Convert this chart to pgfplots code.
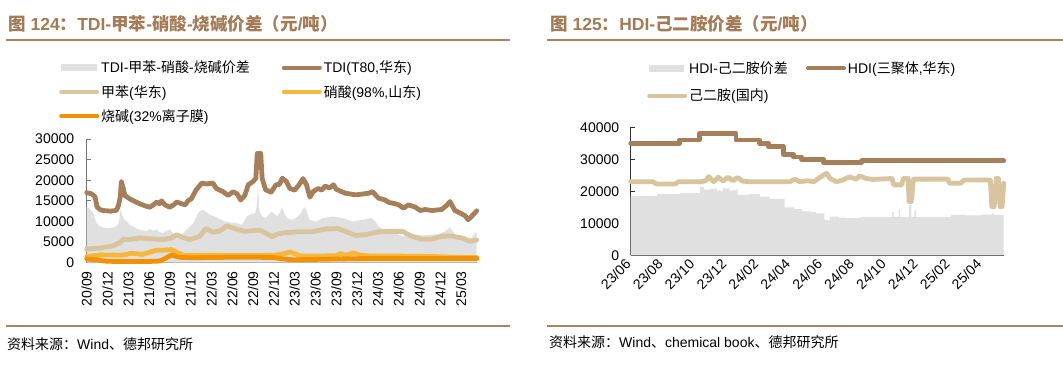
\documentclass[border=0pt]{standalone}
\usepackage{pgfplots}
\pgfplotsset{compat=1.18}
\usepackage{fontspec}
\setmainfont{Liberation Sans}
\newfontfamily\cjk{Noto Sans CJK SC}
\definecolor{titlebrown}{HTML}{A37B55}
\definecolor{rulebrown}{HTML}{A88463}
\definecolor{tdic}{HTML}{A57F5A}
\definecolor{tolc}{HTML}{D8C49D}
\definecolor{nitc}{HTML}{F5B83D}
\definecolor{naohc}{HTML}{F39200}
\definecolor{spreadc}{HTML}{E0E0E0}
\newcommand{\C}[1]{{\cjk #1}}
\pgfplotsset{
  common/.style={
    scale only axis, enlargelimits=false, clip=false,
    axis lines=left, axis line style={-},
    tick align=inside, major tick length=4pt,
    ticklabel style={font=\fontsize{14}{14}\selectfont},
    /pgf/number format/assume math mode=true,
    /pgf/number format/1000 sep={},
    scaled y ticks=false,
    legend columns=2, legend cell align=left,
    legend image code/.code={\draw[##1, line width=4pt, line cap=round] (0pt,0pt) -- (36pt,0pt);},
  },
  thick line/.style={line width=4.8pt, line cap=round, line join=round},
}
\begin{document}
\begin{tikzpicture}
\path[use as bounding box, fill=white] (0pt,0pt) rectangle (1063pt,366pt);
% ---------------- left panel ----------------
\begin{axis}[common,
  at={(86.7pt,103.3pt)}, anchor=south west,
  width=390pt, height=123.7pt,
  xmin=0, xmax=56.25, ymin=0, ymax=30000,
  axis line style={draw=black!55, line width=0.8pt},
  tick style={draw=black!55, line width=0.8pt},
  xtick={0,3,...,54},
  xticklabels={20/09,20/12,21/03,21/06,21/09,21/12,22/03,22/06,22/09,22/12,23/03,23/06,23/09,23/12,24/03,24/06,24/09,24/12,25/03},
  xticklabel style={rotate=90, anchor=east},
  xticklabel shift=5pt,
  ytick={0,5000,...,30000},
  yticklabel shift=9pt,
  legend style={at={(axis description cs:-0.0786,1.665)}, anchor=north west, draw=none, fill=none,
    font=\fontsize{14}{16}\selectfont, row sep=7pt,
    /tikz/every even column/.append style={column sep=30pt}},
]
\addplot[fill=spreadc, draw=none,
  legend image code/.code={\fill[spreadc] (0pt,-3.5pt) rectangle (36pt,3.5pt);}] coordinates {
(0,13500)(0.3,13200)(0.6,12800)(0.96,11900)(1.2,10500)(1.44,9600)(1.7,9000)(1.92,8800)(2.4,8500)(2.9,8400)(3.36,8400)(3.9,8600)(4.3,8800)(4.6,9500)(4.9,13000)(5.1,11500)(5.4,10500)(5.76,10000)(6.2,9200)(6.72,8800)(7.2,8300)(7.68,8000)(8.2,7800)(8.64,7600)(9.1,8200)(9.5,7700)(10.08,8000)(10.5,7400)(11.04,7200)(11.5,7800)(12,8000)(12.5,7000)(13,6600)(13.44,6400)(13.9,7200)(14.4,8000)(14.9,8800)(15.36,9600)(15.7,10800)(16.08,12000)(16.4,12600)(16.8,12800)(17.3,12200)(17.8,11600)(18.5,11200)(19.2,10600)(19.9,10000)(20.6,9800)(21.4,9600)(22.0,9400)(22.4,9200)(23.1,11200)(23.7,11800)(24.3,12000)(24.55,14000)(24.7,19200)(24.85,13500)(25.0,12000)(25.4,11200)(25.8,10800)(26.2,11500)(26.7,12400)(27.1,11800)(27.5,11200)(27.9,12400)(28.2,13500)(28.5,12000)(28.9,10800)(29.3,10600)(29.7,10400)(30.3,11000)(30.9,12000)(31.2,13000)(31.5,13500)(31.8,12000)(32.1,10400)(32.6,10200)(33.1,10000)(33.6,10400)(34.0,10800)(34.8,11000)(35.5,11200)(36.2,11000)(37.0,10800)(37.6,10400)(38.3,10000)(39,10200)(39.7,10400)(40.4,10600)(41.1,10800)(41.6,10000)(42.1,8800)(42.8,8000)(43.5,7400)(44.5,7200)(45.5,6400)(46.5,6600)(47.4,6800)(48.5,6600)(49.8,6800)(50.8,7000)(51.7,7600)(52.4,8600)(53.1,6800)(54.1,5600)(55.0,5800)(55.5,6000)(56.1,7300)(56.25,7300)
} \closedcycle;
\addlegendentry{TDI-\C{甲苯}-\C{硝酸}-\C{烧碱价差}}
\addplot[tdic, thick line] coordinates {
(0,17000)(0.7,16700)(1.2,16000)(1.5,13500)(2.0,12800)(2.4,12650)(3.5,12500)(4.3,12700)(4.6,14000)(4.85,16000)(5.0,19700)(5.2,18500)(5.5,16300)(6.2,15500)(7.0,14800)(7.7,14250)(8.4,13800)(9.1,13450)(9.6,14000)(10.1,14700)(10.5,14300)(10.8,15000)(11.3,14000)(12.0,13450)(12.5,14000)(13.0,14700)(13.7,14300)(14.2,14000)(14.6,15000)(15.1,15500)(15.8,17700)(16.6,19300)(17.3,19100)(18.2,19300)(18.7,18000)(19.7,17200)(20.4,16300)(21.1,17200)(21.7,16700)(22.2,15200)(22.8,16300)(23.3,18900)(24.0,19700)(24.4,20500)(24.6,26500)(25.1,26500)(25.3,20500)(25.8,17700)(26.6,17100)(27.3,18900)(27.8,19000)(28.2,20500)(28.8,19700)(29.3,18000)(30.0,17600)(30.6,18800)(31.2,20400)(31.7,18900)(32.2,15900)(32.7,17300)(33.4,18000)(33.9,17600)(34.4,18600)(35.0,18100)(35.6,18900)(36.0,17800)(37.3,16850)(38.8,16450)(40.7,16850)(41.2,17250)(42.1,15640)(43.0,15240)(43.6,14600)(44.5,14300)(45.0,14030)(45.7,13220)(46.4,14030)(47.4,13470)(48.1,12660)(48.8,12900)(49.8,12660)(51.2,12900)(52.0,14030)(52.4,14830)(53.1,12660)(53.9,12010)(54.6,11370)(55.0,10400)(55.5,11210)(56.25,12580)
};
\addlegendentry{TDI(T80,\C{华东})}
\addplot[tolc, thick line] coordinates {
(0,3300)(1.9,3550)(3.8,4100)(4.8,4900)(5.3,5700)(6.0,5600)(7.7,6000)(9.1,5800)(11.0,5600)(12.2,6000)(13.0,6800)(13.7,6200)(14.9,5600)(16.3,6400)(17.2,8300)(18.2,7400)(19.2,7700)(20.2,8900)(21.1,8400)(22.7,7600)(24.3,7800)(25.0,7900)(26.0,7000)(26.7,6300)(27.5,6900)(28.2,7200)(30.6,7500)(32.6,7500)(33.6,7900)(34.6,8200)(35.5,8200)(36.2,8300)(37.3,7600)(38.8,6600)(40.2,6800)(42.1,7500)(43.6,7600)(45.5,7600)(46.9,6400)(48.3,5700)(49.8,5700)(51.2,6400)(52.6,6500)(54.1,6000)(55.3,5200)(56.25,5500)
};
\addlegendentry{\C{甲苯}(\C{华东})}
\addplot[nitc, thick line] coordinates {
(0,1500)(2,1900)(5,1800)(6.5,2300)(8,2000)(10,3000)(11,3000)(12.2,3200)(13,2500)(14,1800)(16,1800)(20,1800)(24,1800)(27,1800)(28.5,2200)(29.3,2600)(30,2200)(30.8,1600)(33,1600)(36,1700)(36.6,2200)(37.3,1800)(38,2100)(38.5,2400)(39.3,1900)(41,1600)(45,1600)(50,1500)(53,1300)(56.25,1250)
};
\addlegendentry{\C{硝酸}(98\%,\C{山东})}
\addplot[naohc, thick line] coordinates {
(0,900)(1.5,700)(2.5,400)(4,300)(9,300)(10.5,400)(11.2,900)(11.8,1500)(12.3,1900)(12.8,1600)(13.5,1300)(15,1200)(20,1300)(25,1300)(27,1250)(28,1000)(29,800)(30,700)(33,800)(36,900)(40,1000)(45,1000)(50,1000)(56.25,1000)
};
\addlegendentry{\C{烧碱}(32\%\C{离子膜})}
\end{axis}
% ---------------- right panel ----------------
\begin{axis}[common,
  at={(630.7pt,110.7pt)}, anchor=south west,
  width=373pt, height=128pt,
  xmin=0, xmax=23.4, ymin=0, ymax=40000,
  axis line style={draw=black!80, line width=0.8pt},
  tick style={draw=black!80, line width=0.8pt},
  xtick={0,2,...,22},
  xticklabels={23/06,23/08,23/10,23/12,24/02,24/04,24/06,24/08,24/10,24/12,25/02,25/04},
  xticklabel style={rotate=45, anchor=east},
  xticklabel shift=4pt,
  ytick={0,10000,...,40000},
  yticklabel shift=8pt,
  legend style={at={(axis description cs:0.0357,1.545)}, anchor=north west, draw=none, fill=none,
    font=\fontsize{14}{16}\selectfont, row sep=10pt,
    /tikz/every even column/.append style={column sep=16pt}},
]
\addplot[fill=spreadc, draw=none, const plot,
  legend image code/.code={\fill[spreadc] (0pt,-3.5pt) rectangle (35pt,3.5pt);}] coordinates {
(0,18500)(0.8,18600)(1.65,19100)(3.1,19500)(4.35,21300)(4.6,20500)(5.0,20800)(5.4,20200)(5.8,20900)(6.2,20300)(6.6,20600)(6.7,18900)(7.4,19200)(8.1,18300)(8.7,17600)(9.65,15000)(10.25,14400)(10.75,13700)(11.3,13500)(11.6,13100)(12.15,11000)(12.5,12100)(13.0,11800)(13.5,11600)(14.0,11700)(14.5,12000)(16.4,13500)(16.5,12000)(16.8,14200)(16.9,12000)(17.47,15700)(17.6,12000)(17.8,14000)(17.9,12000)(20.1,12600)(21.0,12500)(22.0,12700)(22.65,13000)(22.8,12600)(23.4,12600)
} \closedcycle;
\addlegendentry{HDI-\C{己二胺价差}}
\addplot[tdic, thick line, const plot] coordinates {
(0,35000)(3.06,36000)(4.3,38000)(6.6,36000)(8.1,35000)(8.65,34000)(9.6,31500)(10.2,30700)(10.7,30000)(12.1,29000)(14.5,29500)(23.4,29500)
};
\addlegendentry{HDI(\C{三聚体},\C{华东})}
\addplot[tolc, thick line] coordinates {
(0,23000)(1.4,23000)(1.6,22300)(2.8,22300)(3.0,23000)(4.4,23000)(4.7,23300)(4.9,24600)(5.2,23000)(5.5,24400)(5.8,23200)(6.1,24400)(6.4,23300)(6.7,24300)(7.0,23200)(7.4,23000)(10.0,23000)(10.3,23800)(10.6,23000)(11.1,23300)(11.5,23000)(11.9,24500)(12.3,25600)(12.5,24000)(12.9,23000)(13.3,23500)(13.7,24500)(14.15,23800)(14.36,24800)(14.77,24000)(15.18,23700)(16.4,24000)(16.5,22000)(17.0,22000)(17.1,24000)(17.4,24000)(17.47,16800)(17.6,16800)(17.74,23800)(19.9,23800)(20.0,22500)(20.7,22500)(20.9,23500)(22.56,23500)(22.66,15200)(22.8,15200)(22.93,24000)(23.07,24000)(23.17,15200)(23.3,15200)(23.4,22500)
};
\addlegendentry{\C{己二胺}(\C{国内})}
\end{axis}
% ---------------- titles, rules, sources ----------------
\node[anchor=west, inner sep=0pt, text=titlebrown, font=\fontsize{17.5}{19}\selectfont\bfseries] at (8pt,342pt) {\C{图} 124\C{：}TDI-\C{甲苯}-\C{硝酸}-\C{烧碱价差（元}/\C{吨）}};
\draw[rulebrown, line width=2pt] (6pt,326pt) -- (510pt,326pt);
\draw[rulebrown, line width=2pt] (6pt,40pt) -- (510pt,40pt);
\node[anchor=west, inner sep=0pt, font=\fontsize{14}{16}\selectfont] at (7pt,22pt) {\C{资料来源：}Wind\C{、德邦研究所}};
\node[anchor=west, inner sep=0pt, text=titlebrown, font=\fontsize{17.5}{19}\selectfont\bfseries] at (550pt,342pt) {\C{图} 125\C{：}HDI-\C{己二胺价差（元}/\C{吨）}};
\draw[rulebrown, line width=2pt] (547pt,326pt) -- (1063pt,326pt);
\draw[rulebrown, line width=2pt] (547pt,40pt) -- (1063pt,40pt);
\node[anchor=west, inner sep=0pt, font=\fontsize{14}{16}\selectfont] at (549pt,24pt) {\C{资料来源：}Wind\C{、}chemical book\C{、德邦研究所}};
\end{tikzpicture}
\end{document}
